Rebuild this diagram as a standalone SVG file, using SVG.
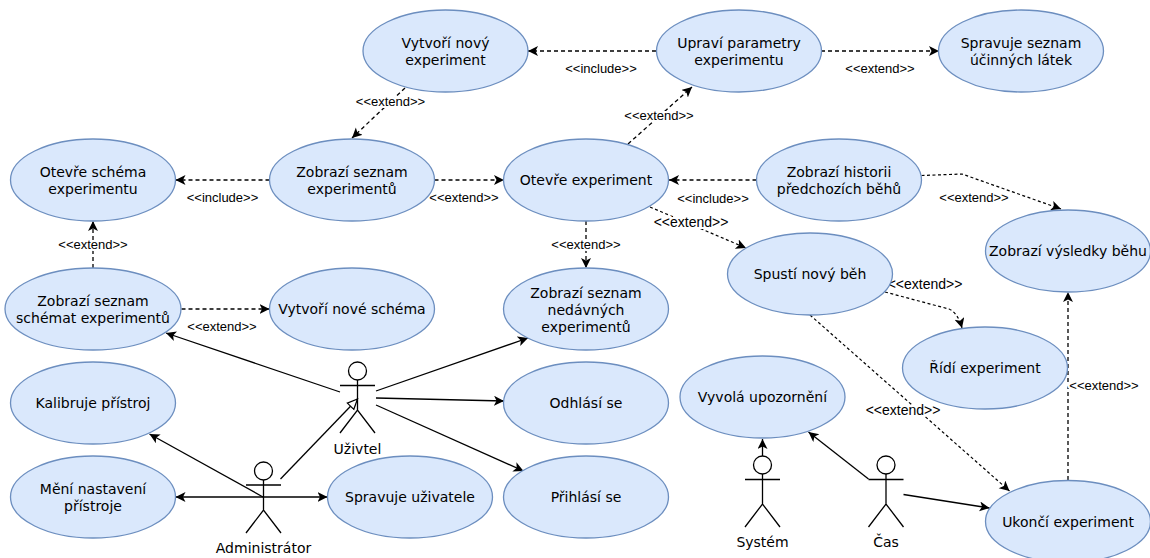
<svg xmlns="http://www.w3.org/2000/svg" width="1150" height="558" viewBox="0 0 1150 558">
<style>
.n{fill:#dae8fc;stroke:#6c8ebf;stroke-width:1.3}
.t{font-family:"DejaVu Sans",Verdana,sans-serif;font-size:14px;fill:#000;text-anchor:middle}
.l{font-family:"Liberation Sans",Arial,sans-serif;font-size:13px;fill:#000;text-anchor:middle}
.b{font-size:14px}
.o{stroke:#fff;stroke-width:4;paint-order:stroke}
.d{fill:none;stroke:#000;stroke-width:1.3;stroke-dasharray:4 3;marker-end:url(#a)}
.f{stroke-width:1.200;stroke-dasharray:3 2.500}
.s{fill:none;stroke:#000;stroke-width:1.3;marker-end:url(#a)}
.h{fill:none;stroke:#000;stroke-width:1.3;marker-end:url(#h)}
.p{fill:none;stroke:#000;stroke-width:1.3}
.c{fill:#fff;stroke:#000;stroke-width:1.3}
</style>
<defs>
<marker id="a" markerUnits="userSpaceOnUse" markerWidth="14" markerHeight="12" refX="10" refY="5" orient="auto"><path d="M0 0L10 5L0 10L2.500 5Z" fill="#000"/></marker>
<marker id="h" markerUnits="userSpaceOnUse" markerWidth="14" markerHeight="12" refX="11" refY="5.500" orient="auto"><path d="M1 1L11 5.500L1 10Z" fill="#fff" stroke="#000" stroke-width="1.200"/></marker>
</defs>
<g id="connectors">
<path class="d" d="M405 88L352 138"/>
<path class="d" d="M656 51L528 51"/>
<path class="d" d="M821 51L939 51"/>
<path class="d" d="M269.500 180L175.500 180"/>
<path class="d" d="M434.500 180L504 180"/>
<path class="d" d="M628 144L692 87"/>
<path class="d" d="M756.500 180L669 180"/>
<path class="d f" d="M921.500 175.500L962 174L1061 209"/>
<path class="d" d="M586 221L586 268"/>
<path class="d f" d="M650 207L746 248"/>
<path class="d" d="M93 268L93 221"/>
<path class="d" d="M181.500 309L269.500 309"/>
<path class="d f" d="M885 292L949 309Q958 313 962 328"/>
<path class="d f" d="M810 315L1009.500 491"/>
<path class="d" d="M1068 480L1068 292"/>
<path class="s" d="M340 392L166 333"/>
<path class="s" d="M376 391L528 338"/>
<path class="s" d="M376 398L504 401"/>
<path class="s" d="M376 405L523.500 471"/>
<path class="h" d="M280.500 479L357.500 399"/>
<path class="s" d="M263 497L149.500 434"/>
<path class="s" d="M263 497L175.500 497"/>
<path class="s" d="M263 497L327.500 497"/>
<path class="s" d="M762.500 456L762.500 439"/>
<path class="s" d="M868.500 479L808.500 432"/>
<path class="s" d="M903.500 494.500L989.500 508"/>
<text class="l o" x="390.500" y="106">&lt;&lt;extend&gt;&gt;</text>
<text class="l" x="601" y="73">&lt;&lt;include&gt;&gt;</text>
<text class="l" x="880" y="73">&lt;&lt;extend&gt;&gt;</text>
<text class="l" x="222.500" y="202">&lt;&lt;include&gt;&gt;</text>
<text class="l" x="464" y="202">&lt;&lt;extend&gt;&gt;</text>
<text class="l o" x="659" y="120">&lt;&lt;extend&gt;&gt;</text>
<text class="l" x="713" y="203">&lt;&lt;include&gt;&gt;</text>
<text class="l o" x="974" y="202">&lt;&lt;extend&gt;&gt;</text>
<text class="l o" x="586" y="249">&lt;&lt;extend&gt;&gt;</text>
<text class="l b o" x="691" y="227">&lt;&lt;extend&gt;&gt;</text>
<text class="l o" x="93" y="249">&lt;&lt;extend&gt;&gt;</text>
<text class="l" x="222" y="331">&lt;&lt;extend&gt;&gt;</text>
<text class="l b o" x="925" y="289">&lt;&lt;extend&gt;&gt;</text>
<text class="l b o" x="903" y="415">&lt;&lt;extend&gt;&gt;</text>
<text class="l o" x="1104" y="390">&lt;&lt;extend&gt;&gt;</text>
</g>
<g id="n1"><ellipse class="n" cx="445.500" cy="51" rx="82.500" ry="41"/><text class="t" x="445.500" y="48">Vytvoří nový</text><text class="t" x="445.500" y="65">experiment</text></g>
<g id="n2"><ellipse class="n" cx="739" cy="51" rx="82.500" ry="41"/><text class="t" x="739" y="48">Upraví parametry</text><text class="t" x="739" y="65">experimentu</text></g>
<g id="n3"><ellipse class="n" cx="1021" cy="51" rx="82.500" ry="41"/><text class="t" x="1021" y="48">Spravuje seznam</text><text class="t" x="1021" y="65">účinných látek</text></g>
<g id="n4"><ellipse class="n" cx="93" cy="180" rx="82.500" ry="41"/><text class="t" x="93" y="177">Otevře schéma</text><text class="t" x="93" y="194">experimentu</text></g>
<g id="n5"><ellipse class="n" cx="352" cy="180" rx="82.500" ry="41"/><text class="t" x="352" y="177">Zobrazí seznam</text><text class="t" x="352" y="194">experimentů</text></g>
<g id="n6"><ellipse class="n" cx="586" cy="180" rx="82.500" ry="41"/><text class="t" x="586" y="185">Otevře experiment</text></g>
<g id="n7"><ellipse class="n" cx="839" cy="180" rx="82.500" ry="41"/><text class="t" x="839" y="177">Zobrazí historii</text><text class="t" x="839" y="194">předchozích běhů</text></g>
<g id="n8"><ellipse class="n" cx="1068" cy="251" rx="82.500" ry="41"/><text class="t" x="1068" y="256">Zobrazí výsledky běhu</text></g>
<g id="n9"><ellipse class="n" cx="810" cy="274" rx="82.500" ry="41"/><text class="t" x="810" y="279">Spustí nový běh</text></g>
<g id="n10"><ellipse class="n" cx="93" cy="309" rx="88" ry="41"/><text class="t" x="93" y="306">Zobrazí seznam</text><text class="t" x="93" y="323">schémat experimentů</text></g>
<g id="n11"><ellipse class="n" cx="352" cy="309" rx="82.500" ry="41"/><text class="t" x="352" y="314">Vytvoří nové schéma</text></g>
<g id="n12"><ellipse class="n" cx="586" cy="309" rx="82.500" ry="41"/><text class="t" x="586" y="298">Zobrazí seznam</text><text class="t" x="586" y="315">nedávných</text><text class="t" x="586" y="332">experimentů</text></g>
<g id="n13"><ellipse class="n" cx="93" cy="403" rx="82.500" ry="41"/><text class="t" x="93" y="408">Kalibruje přístroj</text></g>
<g id="n14"><ellipse class="n" cx="586" cy="403" rx="82.500" ry="41"/><text class="t" x="586" y="408">Odhlásí se</text></g>
<g id="n15"><ellipse class="n" cx="93" cy="497" rx="82.500" ry="41"/><text class="t" x="93" y="494">Mění nastavení</text><text class="t" x="93" y="511">přístroje</text></g>
<g id="n16"><ellipse class="n" cx="410" cy="497" rx="82.500" ry="41"/><text class="t" x="410" y="502">Spravuje uživatele</text></g>
<g id="n17"><ellipse class="n" cx="586" cy="497" rx="82.500" ry="41"/><text class="t" x="586" y="502">Přihlásí se</text></g>
<g id="n18"><ellipse class="n" cx="762.500" cy="397" rx="82.500" ry="41"/><text class="t" x="762.500" y="402">Vyvolá upozornění</text></g>
<g id="n19"><ellipse class="n" cx="985" cy="368" rx="82.500" ry="41"/><text class="t" x="985" y="373">Řídí experiment</text></g>
<g id="n20"><ellipse class="n" cx="1068" cy="521.500" rx="82.500" ry="41"/><text class="t" x="1068" y="526.500">Ukončí experiment</text></g>
<g id="uzivatel"><circle class="c" cx="357.500" cy="371" r="9"/><path class="p" d="M357.500 380V410M340 385.500H375M340 433L357.500 410L375 433"/><text class="t" x="357.500" y="454">Uživtel</text></g>
<g id="admin"><circle class="c" cx="263.500" cy="471" r="9"/><path class="p" d="M263.500 480V510M246 485H281M246 533L263.500 510L281 533"/><text class="t" x="263.500" y="553">Administrátor</text></g>
<g id="system"><circle class="c" cx="762.500" cy="465" r="9"/><path class="p" d="M762.500 474V504M745 479.500H780M745 527L762.500 504L780 527"/><text class="t" x="762.500" y="547">Systém</text></g>
<g id="cas"><circle class="c" cx="886" cy="465" r="9"/><path class="p" d="M886 474V504M868.500 479.500H903.500M868.500 527L886 504L903.500 527"/><text class="t" x="886" y="547">Čas</text></g>
</svg>
